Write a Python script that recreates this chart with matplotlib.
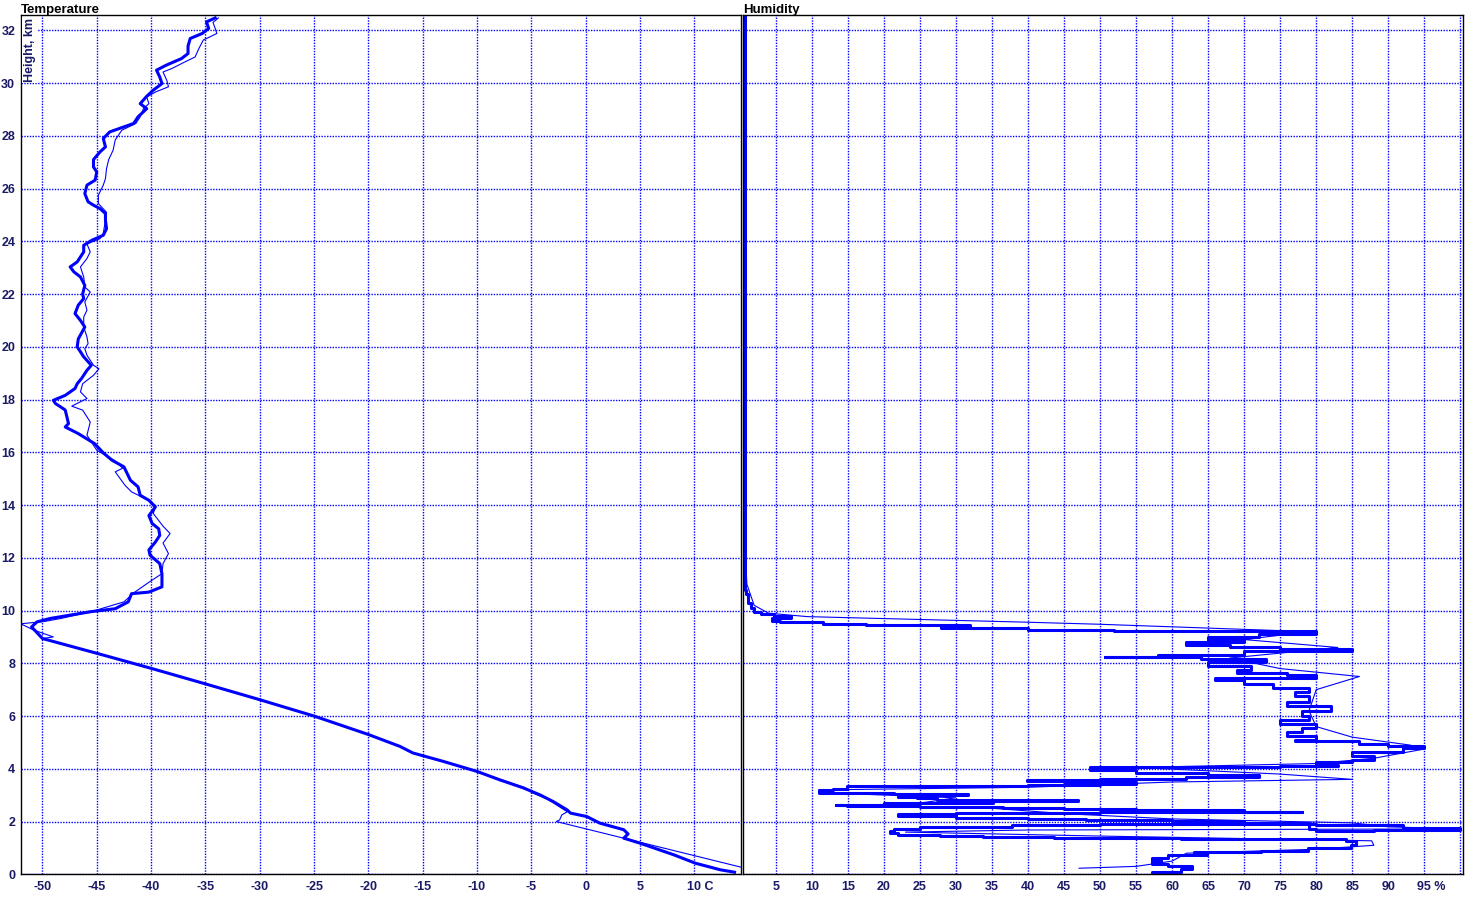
import numpy as np
import matplotlib
matplotlib.use("Agg")
import matplotlib.pyplot as plt
from matplotlib.transforms import ScaledTranslation

plt.rcParams['font.family'] = ['Liberation Sans', 'DejaVu Sans']

# temperature, thick trace (height km, temperature C)
temp_h = [0.08, 0.17, 0.42, 0.74, 1.18, 1.37, 1.53, 1.69, 1.94, 2.19, 2.32, 2.44, 2.76, 3.01,
          3.27, 3.58, 3.90, 4.28, 4.60, 4.85, 5.30, 6.00, 6.62, 7.22, 7.81, 8.38, 8.94, 9.25,
          9.38, 9.57, 9.70, 9.96, 10.07, 10.33, 10.64, 10.70, 10.90, 11.40, 11.78, 12.10, 12.30,
          12.60, 12.85, 13.10, 13.30, 13.60, 13.93, 14.18, 14.37, 14.69, 14.94, 15.45, 15.70,
          15.98, 16.33, 16.71, 16.96, 17.09, 17.60, 17.66, 17.85, 17.97, 18.16, 18.42, 18.60,
          18.80, 19.11, 19.30, 19.62, 20.00, 20.30, 20.75, 21.00, 21.26, 21.58, 21.83, 22.00,
          22.33, 22.65, 22.84, 23.03, 23.22, 23.60, 23.85, 24.04, 24.23, 24.48, 24.80, 25.05,
          25.24, 25.37, 25.50, 25.81, 26.13, 26.32, 26.63, 26.82, 27.10, 27.39, 27.58, 27.90,
          28.15, 28.34, 28.47, 28.72, 29.03, 29.22, 29.50, 29.73, 29.98, 30.23, 30.49, 30.68,
          30.93, 31.12, 31.40, 31.69, 31.88, 32.07, 32.32, 32.47]
temp_t = [13.7, 12.4, 10.1, 8.1, 5.0, 3.5, 3.9, 3.5, 1.3, 0.1, -1.4, -1.7, -3.0, -4.2,
          -5.7, -7.9, -10.0, -13.1, -15.9, -17.1, -20.0, -25.0, -30.0, -35.0, -40.0, -45.0, -50.0, -50.7,
          -51.0, -50.5, -49.3, -45.5, -43.3, -42.1, -41.8, -40.2, -39.0, -39.0, -39.2, -40.1, -40.2,
          -39.6, -39.2, -39.3, -39.9, -40.2, -39.6, -40.2, -41.0, -41.2, -41.9, -42.5, -43.6,
          -44.4, -45.2, -46.7, -47.9, -47.6, -47.9, -48.1, -48.8, -49.0, -47.9, -47.0, -46.8,
          -46.4, -45.9, -45.5, -46.2, -46.8, -46.7, -46.1, -46.5, -47.0, -46.7, -46.2, -46.3,
          -46.1, -46.5, -47.1, -47.45, -46.8, -46.2, -46.2, -45.45, -44.4, -44.1, -44.2, -44.2,
          -44.7, -45.3, -45.8, -46.1, -45.9, -45.15, -45.0, -45.3, -45.3, -44.7, -44.2, -44.4,
          -43.8, -42.5, -41.6, -41.2, -40.4, -41.0, -40.4, -39.8, -39.0, -39.2, -39.5, -38.6,
          -37.2, -36.6, -36.6, -36.4, -35.3, -34.7, -34.9, -34.1]

# temperature, thin trace
temp2_h = [0.26, 2.00, 2.06, 2.25, 2.37, 2.85, 3.07, 3.30, 3.90, 4.28, 4.60, 4.85, 5.30, 6.00,
           6.62, 7.22, 7.81, 8.38, 8.94, 9.00, 9.26, 9.50, 9.58, 9.70, 9.96, 10.33, 10.70, 11.10,
           11.40, 11.78, 12.16, 12.56, 12.92, 13.20, 13.68, 13.93, 14.18, 14.50, 14.75, 15.26,
           15.40, 15.70, 16.08, 16.65, 17.15, 17.60, 17.75, 18.04, 18.29, 18.60, 18.92, 19.17,
           19.30, 19.68, 19.93, 20.12, 20.37, 20.75, 21.13, 21.39, 21.70, 22.08, 22.27, 22.65,
           23.03, 23.35, 23.60, 23.90, 24.10, 24.30, 24.80, 25.10, 25.43, 25.75, 26.13, 26.38,
           26.76, 27.10, 27.45, 27.84, 28.21, 28.47, 28.72, 29.03, 29.22, 29.47, 29.66, 29.86,
           30.10, 30.42, 30.55, 30.80, 30.99, 31.31, 31.63, 31.88, 32.07, 32.30, 32.47]
temp2_t = [14.4, -2.7, -2.4, -2.2, -1.7, -3.5, -4.8, -5.7, -10.0, -13.1, -15.9, -17.1, -20.0, -25.0,
           -30.0, -35.0, -40.0, -45.0, -50.0, -49.0, -50.8, -52.0, -49.9, -48.3, -45.5, -42.5, -41.5, -40.1,
           -39.0, -38.9, -38.4, -38.9, -38.25, -38.9, -39.8, -39.6, -40.2, -41.8, -42.4, -43.3,
           -42.6, -43.4, -45.0, -45.9, -45.6, -46.3, -47.3, -45.9, -46.5, -46.3, -45.3, -44.8,
           -45.3, -45.9, -46.1, -45.8, -45.9, -46.2, -46.2, -45.9, -46.1, -45.6, -46.1, -46.2,
           -46.5, -45.9, -45.6, -45.9, -44.7, -44.4, -44.2, -44.1, -44.85, -44.85, -44.4, -44.2,
           -44.1, -43.9, -43.5, -43.3, -42.7, -41.4, -41.0, -40.7, -40.2, -40.4, -39.6, -38.4,
           -38.55, -38.9, -38.1, -36.9, -35.95, -35.6, -35.2, -33.95, -34.1, -34.3, -33.8]

# humidity, thick trace (height km, RH %)
hum_h = [0.05, 0.10, 0.20, 0.30, 0.40, 0.48, 0.56, 0.63, 0.72, 0.80, 0.84, 0.86, 0.89, 1.00,
         1.12, 1.25, 1.32, 1.36, 1.38, 1.40, 1.45, 1.49, 1.56, 1.63, 1.70, 1.78, 1.86, 1.89,
         1.90, 1.88, 1.75, 1.68, 1.66, 1.72, 1.95, 2.02, 2.05, 2.08, 2.15, 2.22, 2.30, 2.34,
         2.36, 2.37, 2.38, 2.42, 2.46, 2.52, 2.55, 2.60, 2.63, 2.62, 2.70, 2.78, 2.80, 2.82,
         2.88, 2.92, 2.98, 3.02, 3.06, 3.08, 3.10, 3.18, 3.25, 3.33, 3.36, 3.40, 3.43, 3.50,
         3.55, 3.58, 3.62, 3.70, 3.77, 3.85, 3.95, 4.05, 4.08, 4.10, 4.15, 4.25, 4.35, 4.50,
         4.65, 4.80, 4.88, 4.95, 5.05, 5.10, 5.25, 5.40, 5.55, 5.70, 5.85, 6.00, 6.20, 6.40,
         6.55, 6.75, 6.90, 7.05, 7.20, 7.35, 7.45, 7.55, 7.65, 7.75, 7.90, 8.05, 8.15, 8.24,
         8.25, 8.30, 8.45, 8.55, 8.62, 8.70, 8.80, 8.90, 9.00, 9.10, 9.22, 9.28, 9.33, 9.38,
         9.45, 9.50, 9.55, 9.62, 9.70, 9.78, 9.86, 9.95, 10.08, 10.27, 10.64, 10.77, 11.90,
         12.50, 15.0, 20.0, 32.5]
hum_rh = [58.5, 57.2, 61.3, 62.8, 59.5, 57.2, 58.5, 57.2, 59.5, 64.8, 63.0, 67.1, 72.4, 78.9,
          84.8, 85.5, 84.2, 61.3, 58.3, 43.6, 33.7, 27.8, 22.0, 20.8, 21.4, 25.0, 37.8, 50.0,
          67.1, 80.0, 92.0, 100.0, 88.0, 80.0, 79.0, 70.0, 60.0, 48.0, 40.0, 30.0, 22.0, 30.0,
          50.0, 65.0, 78.0, 70.0, 55.0, 45.0, 36.6, 25.0, 14.9, 13.3, 20.0, 35.2, 47.0, 40.0,
          27.4, 24.6, 21.9, 26.0, 31.7, 21.4, 12.2, 11.0, 13.0, 14.9, 25.0, 40.0, 50.0, 55.0,
          45.0, 39.9, 50.0, 62.0, 72.0, 65.0, 55.0, 48.6, 60.0, 75.0, 83.0, 80.0, 85.0, 88.0,
          85.0, 92.0, 95.0, 90.0, 86.0, 77.0, 80.0, 76.0, 78.0, 80.0, 75.0, 79.0, 78.0, 82.0,
          76.0, 79.0, 77.0, 79.0, 74.0, 70.0, 66.0, 80.0, 76.0, 69.0, 71.0, 65.0, 73.0, 64.0,
          50.7, 58.0, 70.0, 85.0, 75.0, 68.0, 62.0, 70.0, 65.0, 72.0, 80.0, 52.0, 40.0, 28.0,
          32.0, 17.5, 11.5, 5.6, 4.5, 7.1, 4.8, 2.9, 2.0, 1.5, 1.1, 0.85, 0.8,
          0.75, 0.75, 0.75, 0.75]

# humidity, thin trace
hum2_h = [0.23, 0.30, 0.50, 0.80, 0.95, 1.10, 1.27, 1.45, 1.60, 1.68, 1.72, 1.80, 1.95, 2.10,
          2.30, 2.50, 2.60, 2.70, 2.90, 3.10, 3.20, 3.30, 3.50, 3.60, 3.80, 4.05, 4.20, 4.40,
          4.75, 4.90, 5.20, 5.60, 6.20, 7.00, 7.50, 7.80, 8.20, 8.60, 8.90, 9.20, 9.48, 9.56,
          9.77, 9.90, 10.20, 11.00, 12.00, 32.5]
hum2_rh = [47.1, 55.0, 60.0, 62.0, 80.0, 88.0, 87.7, 50.0, 23.0, 40.0, 100.0, 90.0, 85.0, 60.0,
           45.0, 35.2, 14.9, 25.0, 30.0, 11.0, 11.0, 40.0, 60.0, 85.0, 75.0, 55.0, 80.0, 88.0,
           95.0, 93.0, 85.0, 80.0, 79.0, 80.0, 86.0, 75.0, 68.0, 83.0, 70.0, 79.0, 50.0, 39.7,
           9.4, 4.0, 2.0, 1.0, 0.8, 0.75]

t_ticks = [-50, -45, -40, -35, -30, -25, -20, -15, -10, -5, 0, 5, 10]
rh_ticks = [5, 10, 15, 20, 25, 30, 35, 40, 45, 50, 55, 60, 65, 70, 75, 80, 85, 90, 95]
h_ticks = list(range(0, 33, 2))

navy = '#1a1a66'
blue = '#0000ff'

fig = plt.figure(figsize=(14.73, 8.99), dpi=100)
W, H = 1473, 899
bot = (H - 874.3) / H
hgt = (874.3 - 15.3) / H
ax1 = fig.add_axes([20.7 / W, bot, (741.5 - 20.7) / W, hgt])
ax2 = fig.add_axes([743.3 / W, bot, (1463.3 - 743.3) / W, hgt])

for ax in (ax1, ax2):
    ax.set_ylim(0, 32.57)
    ax.set_yticks(h_ticks)
    ax.grid(True, color=blue, linestyle=(0, (1, 1)), linewidth=1.0)
    ax.set_axisbelow(True)
    for s in ax.spines.values():
        s.set_color('black')
        s.set_linewidth(1.0)
    ax.tick_params(length=0, labelsize=9, labelcolor=navy)

ax1.plot(temp2_t, temp2_h, color=blue, lw=0.8)
ax1.plot(temp_t, temp_h, color=blue, lw=2.2)
ax1.set_xlim(-52, 14.34)
ax1.set_xticks(t_ticks)
lbls = [str(t) for t in t_ticks]
lbls[-1] = '10 C'
ax1.set_xticklabels(lbls)
ax1.tick_params(axis='x', pad=5)
ax1.tick_params(axis='y', pad=4)
for l in ax1.get_xticklabels() + ax1.get_yticklabels():
    l.set_fontweight('bold')
last = ax1.get_xticklabels()[-1]
last.set_horizontalalignment('left')
last.set_transform(last.get_transform() + ScaledTranslation(-7 / 100, 0, fig.dpi_scale_trans))

ax2.plot(hum2_rh, hum2_h, color=blue, lw=0.8)
ax2.plot(hum_rh, hum_h, color=blue, lw=2.2, drawstyle='steps-post')
ax2.set_xlim(0.5, 100.41)
ax2.set_xticks(rh_ticks + [100])
lbls2 = [str(r) for r in rh_ticks] + ['']
lbls2[-2] = '95 %'
ax2.set_xticklabels(lbls2)
ax2.tick_params(axis='x', pad=5)
ax2.tick_params(axis='y', labelleft=False)
for l in ax2.get_xticklabels():
    l.set_fontweight('bold')
l95 = ax2.get_xticklabels()[-2]
l95.set_horizontalalignment('left')
l95.set_transform(l95.get_transform() + ScaledTranslation(-7 / 100, 0, fig.dpi_scale_trans))

fig.text(20.7 / W, 1 - 13.5 / H, 'Temperature', fontsize=9.5, fontweight='bold',
         color='black', ha='left', va='baseline')
fig.text(743.3 / W, 1 - 13.5 / H, 'Humidity', fontsize=9.5, fontweight='bold',
         color='black', ha='left', va='baseline')
ax1.text(0.004, 0.997, 'Height, km', transform=ax1.transAxes, rotation=90, fontsize=9,
         fontweight='bold', color=navy, ha='left', va='top',
         bbox=dict(facecolor='white', edgecolor='none', pad=1.0))

fig.savefig('out.png', dpi=100)
